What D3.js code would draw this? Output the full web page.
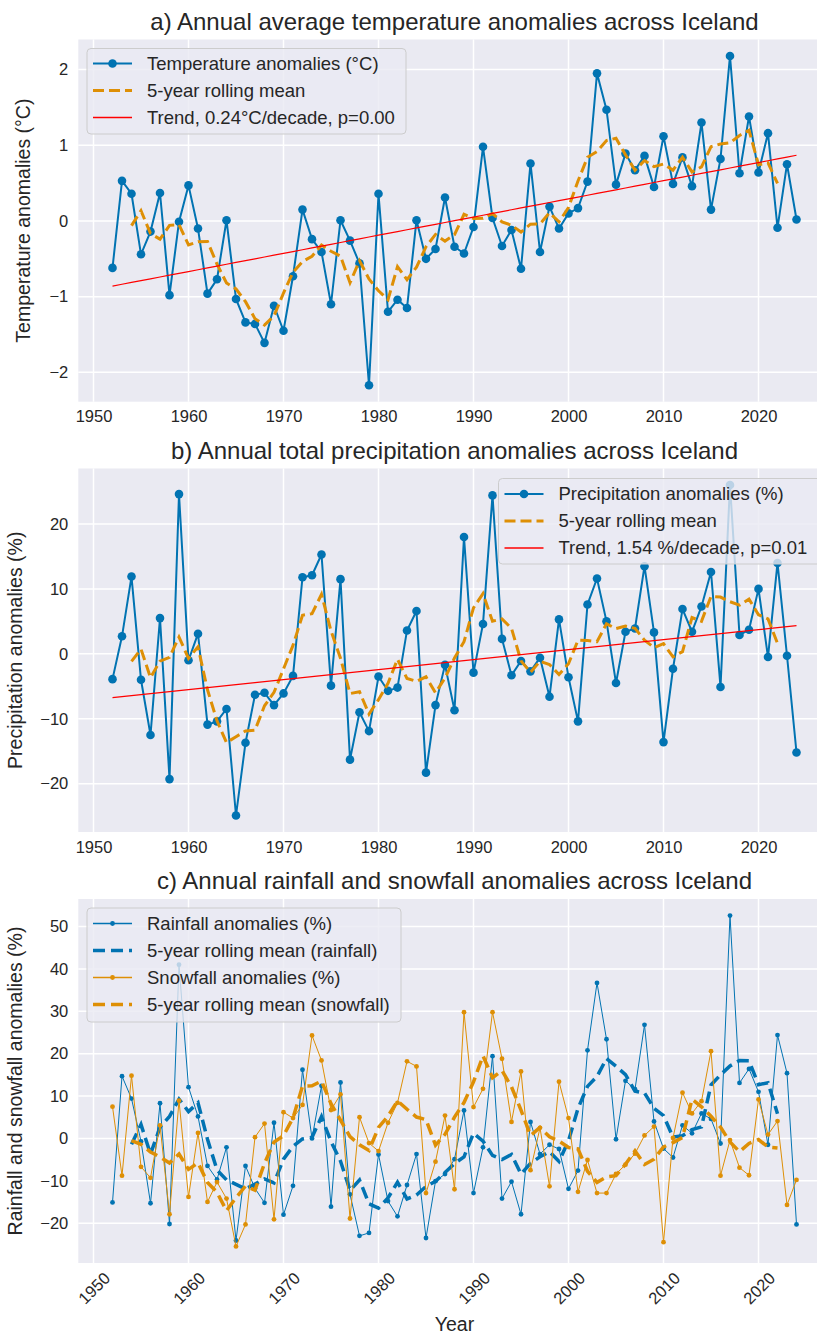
<!DOCTYPE html>
<html>
<head>
<meta charset="utf-8">
<script src="https://cdn.jsdelivr.net/npm/d3@7"></script>
<style>
  body { margin: 0; background: #ffffff; }
  svg { display: block; }
  text { font-family: "Liberation Sans", Arial, sans-serif; fill: #262626; }
</style>
</head>
<body>
<svg id="fig" width="817" height="1335"></svg>
<script>
// ---- data -------------------------------------------------------------
const years = [1952,1953,1954,1955,1956,1957,1958,1959,1960,1961,1962,1963,1964,1965,1966,1967,1968,1969,1970,1971,
  1972,1973,1974,1975,1976,1977,1978,1979,1980,1981,1982,1983,1984,1985,1986,1987,1988,1989,1990,1991,
  1992,1993,1994,1995,1996,1997,1998,1999,2000,2001,2002,2003,2004,2005,2006,2007,2008,2009,2010,2011,
  2012,2013,2014,2015,2016,2017,2018,2019,2020,2021,2022,2023,2024];

// annual mean temperature anomaly (°C)
const temperature = [-0.62,0.53,0.36,-0.44,-0.14,0.37,-0.98,-0.01,0.47,-0.10,-0.96,-0.77,0.01,-1.03,-1.34,-1.36,-1.61,-1.12,-1.45,-0.73,
  0.15,-0.24,-0.41,-1.10,0.01,-0.26,-0.56,-2.17,0.36,-1.20,-1.04,-1.15,0.01,-0.50,-0.37,0.31,-0.34,-0.43,-0.08,0.98,
  0.04,-0.33,-0.12,-0.63,0.76,-0.41,0.19,-0.10,0.10,0.17,0.52,1.95,1.47,0.48,0.89,0.67,0.86,0.45,1.12,0.49,
  0.84,0.46,1.30,0.15,0.82,2.18,0.63,1.38,0.64,1.16,-0.09,0.75,0.02];

// annual total precipitation anomaly (%)
const precipitation = [-3.9,2.7,11.9,-4.0,-12.5,5.5,-19.3,24.6,-1.0,3.1,-10.9,-10.4,-8.5,-24.9,-13.7,-6.3,-6.0,-7.9,-6.1,-3.4,
  11.8,12.1,15.3,-4.9,11.5,-16.3,-9.0,-11.9,-3.5,-5.7,-5.2,3.6,6.6,-18.3,-7.9,-1.7,-8.7,18.0,-2.9,4.6,
  24.4,2.3,-3.3,-1.1,-2.7,-0.6,-6.6,5.3,-3.6,-10.4,7.6,11.6,5.0,-4.5,3.4,3.9,13.5,3.3,-13.6,-2.3,
  6.9,3.4,7.3,12.6,-5.1,26.0,2.9,3.7,10.0,-0.5,14.0,-0.3,-15.2];

// annual rainfall anomaly (%)
const rainfall = [-15.1,14.7,9.4,-0.7,-15.3,8.3,-20.2,41.0,12.1,5.2,-6.5,-9.7,-2.1,-24.1,-6.5,-11.8,-15.2,3.7,-18.0,-11.2,
  16.2,0.0,12.4,-16.1,13.2,-13.2,-23.0,-22.3,-3.8,-14.8,-18.4,-11.0,-3.7,-23.5,-10.1,-8.4,-4.9,6.6,-12.9,-2.1,
  19.4,-14.2,-10.2,-17.9,3.9,-3.7,-1.5,-2.5,-11.9,-7.6,20.8,36.7,23.4,-0.2,13.6,11.6,26.8,4.0,-2.4,-4.5,
  3.1,1.2,5.9,4.6,-1.2,52.6,13.1,16.4,11.0,-1.5,24.4,15.4,-20.3];

// annual snowfall anomaly (%)
const snowfall = [7.5,-8.8,14.8,-6.7,-9.3,3.1,-17.9,8.9,-13.8,1.3,-15.0,-10.3,-14.2,-25.5,-20.3,0.3,3.5,-19.1,6.2,4.8,
  7.9,24.3,18.4,6.7,10.4,-18.9,5.0,-1.1,-3.0,3.7,8.4,18.2,17.0,-12.9,-5.5,5.4,-12.0,29.8,7.4,11.7,
  29.8,18.8,3.9,15.8,-7.5,2.5,-11.3,13.4,4.8,-12.6,-5.1,-12.9,-12.9,-8.4,-6.2,-3.6,0.7,2.8,-24.5,0.1,
  10.8,5.9,8.8,20.6,-8.8,-0.4,-6.9,-8.7,9.2,0.9,4.1,-15.7,-9.8];

// linear trends: slope as stated in the legends, value of the fitted line in 1952
const tempTrendPerDecade = 0.24;
const tempTrendStart = -0.86;
const precipTrendPerDecade = 1.54;
const precipTrendStart = -6.75;

// tick values
const yearTicks = [1950,1960,1970,1980,1990,2000,2010,2020];
const tempTicks = [-2,-1,0,1,2];
const precipTicks = [-20,-10,0,10,20];
const rainSnowTicks = [-20,-10,0,10,20,30,40,50];

// ---- styling ----------------------------------------------------------
const BLUE = "#0173B2", ORANGE = "#DE8F05", RED = "#ff0000";
const PANEL_BG = "#EAEAF2";
const FONT_TICK = 16.5, FONT_LABEL = 19.5, FONT_TITLE = 24, FONT_LEGEND = 18.5;
const fmt = d => (d < 0 ? "\u2212" + Math.abs(d) : String(d));

const svg = d3.select("#fig");
const plotLeft = 78.3, plotRight = 830.7;

const x = d3.scaleLinear().domain([1948.4, 2027.6]).range([plotLeft, plotRight]);

// centred 5-year rolling mean
function rolling(values, w) {
  const h = Math.floor(w / 2);
  return values.map((v, i) => (i < h || i >= values.length - h) ? null : d3.mean(values.slice(i - h, i + h + 1)));
}

// straight trend line from its 1952 value and slope per decade
function trend(start, perDecade) {
  return years.map(yr => start + (perDecade / 10) * (yr - years[0]));
}

function paddedDomain(arrays) {
  const all = arrays.flat().filter(v => v != null);
  const lo = d3.min(all), hi = d3.max(all), m = (hi - lo) * 0.05;
  return [lo - m, hi + m];
}

function panel(cfg) {
  const g = svg.append("g");
  const y = d3.scaleLinear().domain(paddedDomain(cfg.seriesForDomain)).range([cfg.bottom, cfg.top]);

  const clipId = "clip" + cfg.id;
  svg.append("clipPath").attr("id", clipId).append("rect")
    .attr("x", plotLeft).attr("y", cfg.top).attr("width", plotRight - plotLeft).attr("height", cfg.bottom - cfg.top);

  g.append("rect").attr("x", plotLeft).attr("y", cfg.top)
    .attr("width", plotRight - plotLeft).attr("height", cfg.bottom - cfg.top).attr("fill", PANEL_BG);

  // grid
  g.append("g").selectAll("line").data(yearTicks).join("line")
    .attr("x1", d => x(d)).attr("x2", d => x(d)).attr("y1", cfg.top).attr("y2", cfg.bottom)
    .attr("stroke", "#fff").attr("stroke-width", 1.5);
  g.append("g").selectAll("line").data(cfg.yTicks).join("line")
    .attr("y1", d => y(d)).attr("y2", d => y(d)).attr("x1", plotLeft).attr("x2", plotRight)
    .attr("stroke", "#fff").attr("stroke-width", 1.5);

  // y axis
  const yAxis = g.append("g").attr("transform", `translate(${plotLeft},0)`)
    .call(d3.axisLeft(y).tickValues(cfg.yTicks).tickFormat(fmt).tickSize(0).tickPadding(10));
  yAxis.select(".domain").remove();
  yAxis.selectAll("text").attr("font-size", FONT_TICK).attr("fill", "#262626")
    .style("font-family", '"Liberation Sans", Arial, sans-serif');

  // x axis
  const xAxis = g.append("g").attr("transform", `translate(0,${cfg.bottom})`)
    .call(d3.axisBottom(x).tickValues(yearTicks).tickFormat(d3.format("d")).tickSize(0).tickPadding(9));
  xAxis.select(".domain").remove();
  xAxis.selectAll("text").attr("font-size", FONT_TICK).attr("fill", "#262626")
    .style("font-family", '"Liberation Sans", Arial, sans-serif');
  if (cfg.rotateX) {
    xAxis.selectAll("text")
      .attr("y", null).attr("dy", null)
      .attr("text-anchor", "middle").attr("dominant-baseline", "central")
      .attr("transform", "translate(0,25) rotate(-45)");
  }

  // titles and labels
  svg.append("text").attr("x", (plotLeft + plotRight) / 2).attr("y", cfg.top - 10)
    .attr("text-anchor", "middle").attr("font-size", FONT_TITLE).text(cfg.title);
  svg.append("text").attr("transform", `translate(${cfg.ylabelX},${(cfg.top + cfg.bottom) / 2}) rotate(-90)`)
    .attr("text-anchor", "middle").attr("font-size", FONT_LABEL).text(cfg.ylabel);
  if (cfg.xlabel) {
    svg.append("text").attr("x", (plotLeft + plotRight) / 2).attr("y", cfg.xlabelY)
      .attr("text-anchor", "middle").attr("font-size", FONT_LABEL).text(cfg.xlabel);
  }

  const marks = g.append("g").attr("clip-path", `url(#${clipId})`);
  cfg.layers.forEach(L => {
    const pts = years.map((yr, i) => [yr, L.values[i]]).filter(p => p[1] != null);
    const line = d3.line().x(p => x(p[0])).y(p => y(p[1]));
    marks.append("path").datum(pts).attr("d", line).attr("fill", "none")
      .attr("stroke", L.color).attr("stroke-width", L.width)
      .attr("stroke-dasharray", L.dash || null).attr("stroke-opacity", L.opacity || 1);
    if (L.marker) {
      marks.append("g").selectAll("circle").data(pts).join("circle")
        .attr("cx", p => x(p[0])).attr("cy", p => y(p[1])).attr("r", L.marker).attr("fill", L.color);
    }
  });

  // legend
  const lg = cfg.legend;
  const lgG = svg.append("g");
  lgG.append("rect").attr("x", lg.x).attr("y", lg.y).attr("width", lg.w).attr("height", lg.h)
    .attr("rx", 4).attr("fill", PANEL_BG).attr("fill-opacity", 0.8).attr("stroke", "#cccccc").attr("stroke-width", 1);
  lg.items.forEach((it, i) => {
    const cy = lg.y + lg.first + i * lg.step;
    const L = it.layer;
    lgG.append("line").attr("x1", lg.x + 6).attr("x2", lg.x + 45).attr("y1", cy).attr("y2", cy)
      .attr("stroke", L.color).attr("stroke-width", Math.max(L.width, 1.3)).attr("stroke-dasharray", L.dash || null)
      .attr("stroke-opacity", L.opacity || 1);
    if (L.marker) lgG.append("circle").attr("cx", lg.x + 25.5).attr("cy", cy).attr("r", L.marker).attr("fill", L.color);
    lgG.append("text").attr("x", lg.x + 60).attr("y", cy).attr("dy", "0.35em")
      .attr("font-size", FONT_LEGEND).text(it.label);
  });
}

// ---- panel a: temperature ------------------------------------------
const tempRoll = rolling(temperature, 5);
const tempTrend = trend(tempTrendStart, tempTrendPerDecade);
const aData = { color: BLUE, width: 2, marker: 4.3, values: temperature };
const aRoll = { color: ORANGE, width: 3, dash: "11,5", values: tempRoll };
const aTrend = { color: RED, width: 1.2, values: tempTrend };
panel({
  id: "a", top: 39.5, bottom: 401.7, yTicks: tempTicks,
  seriesForDomain: [temperature],
  title: "a) Annual average temperature anomalies across Iceland",
  ylabel: "Temperature anomalies (\u00B0C)", ylabelX: 30,
  layers: [aData, aRoll, aTrend],
  legend: { x: 87, y: 48.5, w: 319, h: 85.5, first: 15, step: 27,
    items: [{ layer: aData, label: "Temperature anomalies (\u00B0C)" },
            { layer: aRoll, label: "5-year rolling mean" },
            { layer: aTrend, label: "Trend, 0.24\u00B0C/decade, p=0.00" }] }
});

// ---- panel b: precipitation ----------------------------------------
const precRoll = rolling(precipitation, 5);
const precTrend = trend(precipTrendStart, precipTrendPerDecade);
const bData = { color: BLUE, width: 2, marker: 4.3, values: precipitation };
const bRoll = { color: ORANGE, width: 3, dash: "11,5", values: precRoll };
const bTrend = { color: RED, width: 1.2, values: precTrend };
panel({
  id: "b", top: 468.5, bottom: 832, yTicks: precipTicks,
  seriesForDomain: [precipitation],
  title: "b) Annual total precipitation anomalies across Iceland",
  ylabel: "Precipitation anomalies (%)", ylabelX: 22,
  layers: [bData, bRoll, bTrend],
  legend: { x: 498.5, y: 478.5, w: 324, h: 85.5, first: 15.5, step: 27,
    items: [{ layer: bData, label: "Precipitation anomalies (%)" },
            { layer: bRoll, label: "5-year rolling mean" },
            { layer: bTrend, label: "Trend, 1.54 %/decade, p=0.01" }] }
});

// ---- panel c: rainfall and snowfall ---------------------------------
const rainRoll = rolling(rainfall, 5);
const snowRoll = rolling(snowfall, 5);
const cRain = { color: BLUE, width: 1, marker: 2.4, values: rainfall };
const cRainRoll = { color: BLUE, width: 3.5, dash: "12,6", values: rainRoll };
const cSnow = { color: ORANGE, width: 1, marker: 2.4, values: snowfall };
const cSnowRoll = { color: ORANGE, width: 3.5, dash: "12,6", values: snowRoll };
panel({
  id: "c", top: 899, bottom: 1263, yTicks: rainSnowTicks,
  seriesForDomain: [rainfall, snowfall],
  title: "c) Annual rainfall and snowfall anomalies across Iceland",
  ylabel: "Rainfall and snowfall anomalies (%)", ylabelX: 22,
  xlabel: "Year", xlabelY: 1331, rotateX: true,
  layers: [cRain, cRainRoll, cSnow, cSnowRoll],
  legend: { x: 87, y: 908, w: 314, h: 114, first: 15.5, step: 27,
    items: [{ layer: cRain, label: "Rainfall anomalies (%)" },
            { layer: cRainRoll, label: "5-year rolling mean (rainfall)" },
            { layer: cSnow, label: "Snowfall anomalies (%)" },
            { layer: cSnowRoll, label: "5-year rolling mean (snowfall)" }] }
});
</script>
</body>
</html>
